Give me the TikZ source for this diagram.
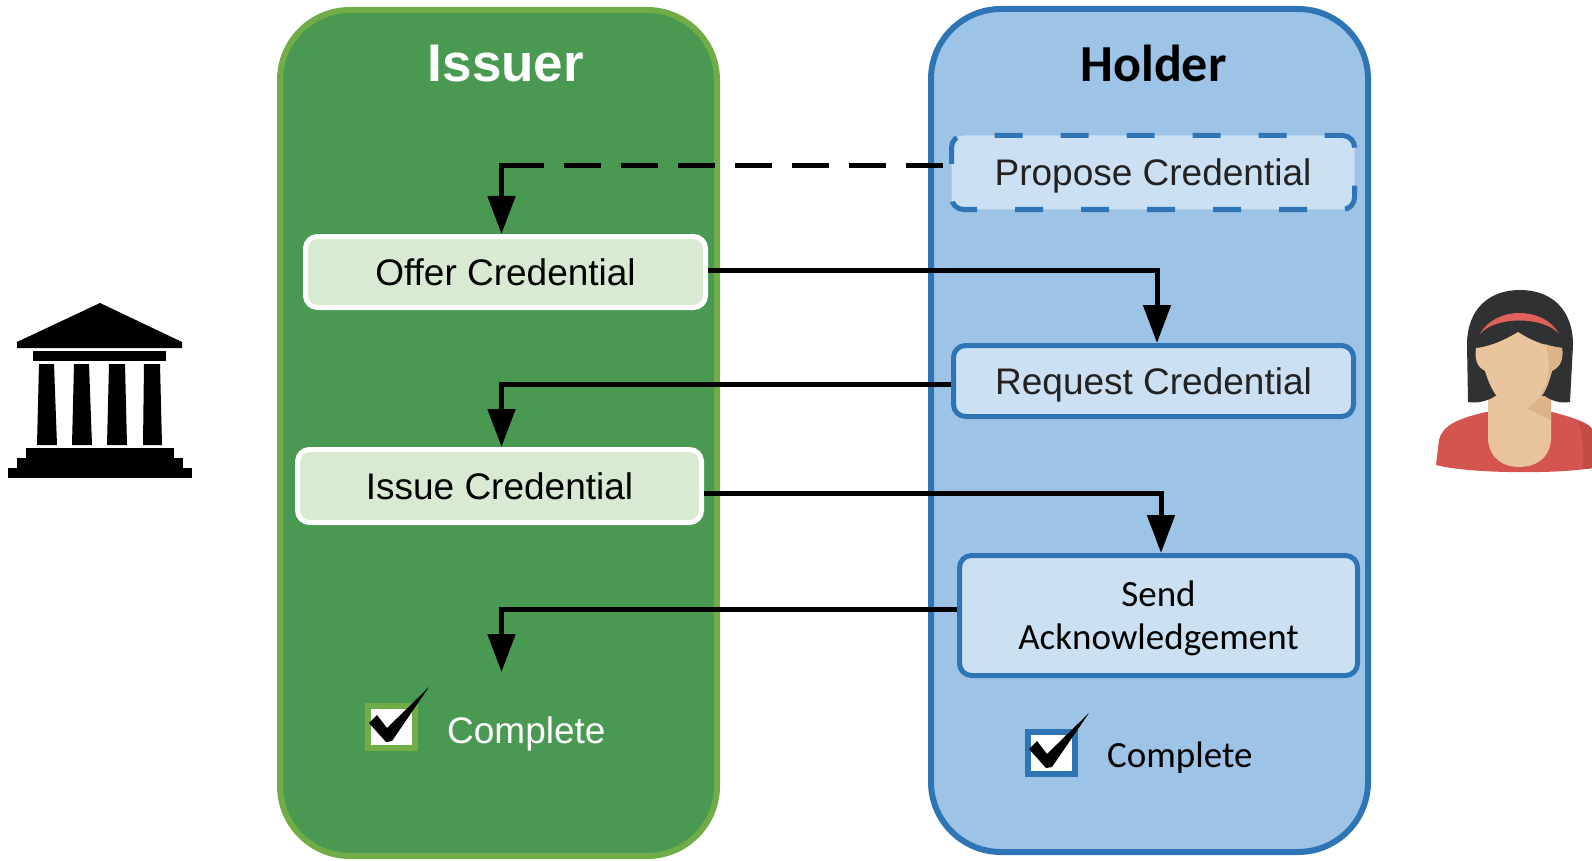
\documentclass[tikz,border=0pt]{standalone}
\usepackage{fontspec}
\setmainfont{Liberation Sans}
\newfontfamily\calibri{Carlito}
\usetikzlibrary{arrows.meta,calc}

\definecolor{issuerfill}{HTML}{4A9952}
\definecolor{issuerline}{HTML}{70AD47}
\definecolor{issuerbox}{HTML}{D9EAD3}
\definecolor{holderfill}{HTML}{9DC3E6}
\definecolor{holderline}{HTML}{2E75B6}
\definecolor{holderbox}{HTML}{CCE0F3}
\definecolor{boxtext}{HTML}{222222}
\definecolor{hair}{HTML}{2F3133}
\definecolor{band}{HTML}{E0625A}
\definecolor{skin}{HTML}{EAC49C}
\definecolor{skinshade}{HTML}{DDB48A}
\definecolor{shirt}{HTML}{D4554F}
\definecolor{shirtshade}{HTML}{C24C44}

\tikzset{
  lane/.style={line width=6pt, rounded corners=70pt},
  ibox/.style={draw=white, line width=5pt, fill=issuerbox, rounded corners=12pt,
    inner sep=0pt, text depth=0pt, text=black, font=\fontsize{37}{44}\selectfont},
  hbox/.style={draw=holderline, line width=5pt, fill=holderbox, rounded corners=12pt,
    inner sep=0pt, text depth=0pt, text=boxtext, font=\fontsize{37}{44}\selectfont},
  flow/.style={line width=5pt, -{Triangle[length=38pt, width=27pt]}},
  % short gap at the box, seven dashes, then solid through the corner
  dashflow/.style={flow, dash pattern=on 0pt off 6pt
    on 37pt off 20pt on 37pt off 20pt on 37pt off 20pt on 37pt off 20pt
    on 37pt off 20pt on 37pt off 20pt on 37pt off 20pt on 200pt off 10pt},
  tick/.style={fill=black},
}

\begin{document}
\begin{tikzpicture}[x=1pt, y=-1pt]
\useasboundingbox (0,0) rectangle (1592,861);

% swim lanes
\draw[lane, draw=issuerline, fill=issuerfill] (280,10) rectangle (717,856);
\draw[lane, draw=holderline, fill=holderfill] (931,9) rectangle (1368,852);

\node[anchor=base, text=white, font=\bfseries\fontsize{53}{60}\selectfont] (issuertitle) at (506,82) {Issuer};
\node[anchor=base, text=black, font=\calibri\bfseries\fontsize{52}{60}\selectfont] (holdertitle) at (1153.5,82) {Holder};

% message boxes
\node[ibox, minimum width=400pt, minimum height=71pt] (offer) at (505.5,272) {Offer Credential};
\node[ibox, minimum width=404pt, minimum height=73pt] (issue) at (499.5,486) {Issue Credential};
\node[hbox, dash pattern=on 28pt off 38pt, dash phase=10pt, minimum width=403pt, minimum height=74pt] (propose) at (1153,172.5) {Propose Credential};
\node[hbox, minimum width=400pt, minimum height=71pt] (request) at (1153.5,381) {Request Credential};
\node[hbox, text=black, minimum width=398pt, minimum height=120pt, align=center,
  font=\calibri\fontsize{37}{43}\selectfont] (ack) at (1158.5,615.5) {Send\\Acknowledgement};

% connectors
\coordinate (issuerdone) at (501.5,672);
\draw[dashflow] ($(propose.west)+(0,-6.5)$) -| ($(offer.north)+(-4,0)$);
\draw[flow] ($(offer.east)+(0,-2)$) -| ($(request.north)+(3.5,0)$);
\draw[flow] ($(request.west)+(0,3)$) -| ($(issue.north)+(2,0)$);
\draw[flow] ($(issue.east)+(0,7.5)$) -| ($(ack.north)+(2.5,0)$);
\draw[flow] ($(ack.west)+(0,-6.5)$) -| (issuerdone);

% completion marks
\draw[line width=6pt, draw=issuerline, fill=white] (368,706) rectangle (415,748);
\fill[tick] (369,723) -- (377,715) -- (387,728) -- (429,687) -- (392,741) -- (386,742) -- cycle;
\node[anchor=base west, text=white, font=\fontsize{37}{44}\selectfont, inner sep=0pt] (issuercomplete) at (447,743) {Complete};

\begin{scope}[shift={(660,26)}]
\draw[line width=6pt, draw=holderline, fill=white] (368,706) rectangle (415,748);
\fill[tick] (369,723) -- (377,715) -- (387,728) -- (429,687) -- (392,741) -- (386,742) -- cycle;
\end{scope}
\node[anchor=base west, text=black, font=\calibri\fontsize{37}{44}\selectfont, inner sep=0pt] (holdercomplete) at (1107,767) {Complete};

% institution icon
\fill (17,342) -- (100,303) -- (182,342) -- (182,348) -- (17,348) -- cycle;
\fill (33,351) rectangle (166,361);
\fill (39,364) -- (54,364) -- (57,445) -- (37,445) -- cycle;
\fill (74,364) -- (89,364) -- (92,445) -- (72,445) -- cycle;
\fill (109,364) -- (125,364) -- (127,445) -- (107,445) -- cycle;
\fill (144,364) -- (160,364) -- (162,445) -- (143,445) -- cycle;
\fill (26,448) rectangle (174,458);
\fill (17,458) rectangle (183,468);
\fill (8,468) rectangle (192,478);

% person icon
\fill[shirt] (1436,465) -- (1439,440) .. controls (1442,425) and (1460,418) .. (1486,412)
  -- (1552,412) .. controls (1575,418) and (1592,424) .. (1592,430) -- (1592,468)
  .. controls (1560,474) and (1470,474) .. (1436,465) -- cycle;
\fill[shirtshade] (1578,421) .. controls (1588,425) and (1592,427) .. (1592,430) -- (1592,468)
  .. controls (1588,469) and (1585,469) .. (1583,469) .. controls (1584,450) and (1583,432) .. (1578,421) -- cycle;
\fill[skin] (1488,395) -- (1488,440) .. controls (1490,460) and (1505,467) .. (1519,467)
  .. controls (1534,467) and (1549,460) .. (1551,440) -- (1551,395) -- cycle;
\fill[skinshade] (1519,405) -- (1551,395) -- (1551,420) .. controls (1540,415) and (1530,410) .. (1519,405) -- cycle;
\fill[hair] (1468,402) -- (1467,345) .. controls (1467,308) and (1490,290) .. (1520,290)
  .. controls (1550,290) and (1573,308) .. (1573,345) -- (1570,402)
  .. controls (1560,404) and (1550,400) .. (1545,396) -- (1495,396)
  .. controls (1490,400) and (1478,404) .. (1468,402) -- cycle;
\fill[skin] (1518,332) .. controls (1500,343) and (1486,347) .. (1476,348)
  .. controls (1474,362) and (1479,368) .. (1485,371)
  .. controls (1492,395) and (1505,410) .. (1518,410)
  .. controls (1532,410) and (1545,395) .. (1552,371)
  .. controls (1558,368) and (1564,362) .. (1562,348)
  .. controls (1550,347) and (1535,343) .. (1518,332) -- cycle;
\fill[skinshade] (1545,344) .. controls (1552,360) and (1550,385) .. (1536,402)
  .. controls (1545,395) and (1549,383) .. (1552,371)
  .. controls (1558,368) and (1564,362) .. (1562,348)
  .. controls (1556,347) and (1550,346) .. (1545,344) -- cycle;
\fill[band] (1480,334) .. controls (1495,306) and (1544,306) .. (1559,334)
  .. controls (1544,316) and (1495,316) .. (1480,334) -- cycle;
\end{tikzpicture}
\end{document}
